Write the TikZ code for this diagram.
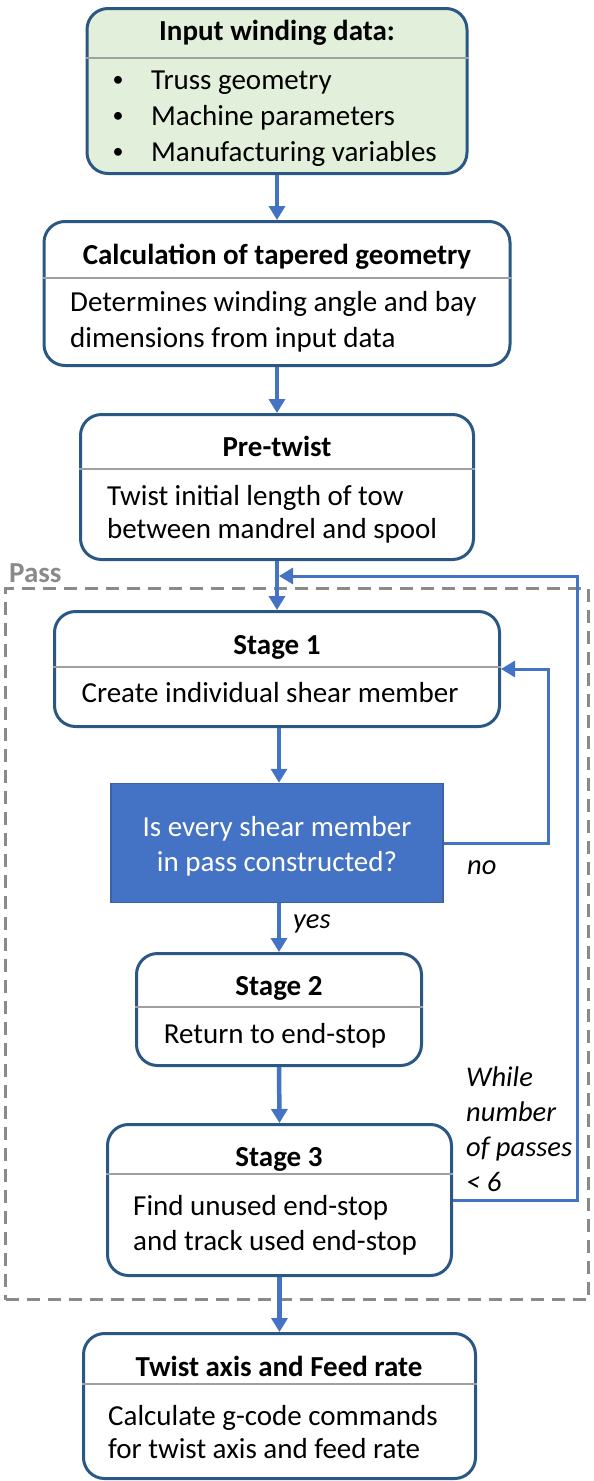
\documentclass[tikz,border=0pt]{standalone}
\usepackage{fontspec}
\setmainfont{Carlito}
\usetikzlibrary{arrows.meta}
\definecolor{bdr}{HTML}{2A5783}
\definecolor{grn}{HTML}{E2EFDA}
\definecolor{arrc}{HTML}{4472C4}
\definecolor{decb}{HTML}{3A62A8}
\definecolor{sepc}{HTML}{A0A0A0}
\definecolor{passg}{HTML}{8A8A8A}
\begin{document}
\begin{tikzpicture}[x=1pt,y=-1pt,
  box/.style={draw=bdr,line width=3pt,rounded corners=21pt,fill=white,inner sep=0pt},
  sep/.style={draw=sepc,line width=1.4pt},
  ttl/.style={font=\fontsize{29}{34}\selectfont\bfseries,anchor=mid,inner sep=0pt,yshift=-6pt},
  txt/.style={font=\fontsize{29}{34}\selectfont,anchor=mid west,inner sep=0pt,yshift=-6pt},
  ctxt/.style={font=\fontsize{29}{34}\selectfont,anchor=mid,inner sep=0pt,yshift=-6pt},
  bul/.style={font=\fontsize{22}{34}\selectfont,anchor=center,inner sep=0pt},
  lbl/.style={font=\fontsize{28.5}{34}\selectfont\itshape,anchor=mid west,inner sep=0pt,yshift=-6pt},
  arr/.style={draw=arrc,line width=4.5pt,-{Triangle[width=16pt,length=14pt]}},
  loop/.style={draw=arrc,line width=3pt,-{Triangle[width=16pt,length=14pt]}}]
\useasboundingbox (0,0) rectangle (594,1481);

% Pass frame
\node[draw=passg,line width=3pt,dash pattern=on 13pt off 8pt,minimum width=583pt,minimum height=711pt,inner sep=0pt] (pass) at (297,944) {};
\node[font=\fontsize{29}{34}\selectfont\bfseries,text=passg,anchor=mid west,inner sep=0pt,yshift=-6pt] (passL) at (9,574) {Pass};

% Input box
\node[box,fill=grn,minimum width=380pt,minimum height=165pt] (inp) at (277,91) {};
\coordinate (inpS) at (0,58);
\draw[sep] (inp.west |- inpS) -- (inp.east |- inpS);
\node[ttl] (inpT) at (277,32) {Input winding data:};
\node[bul] (inpB1) at (118,81) {•};
\node[bul] (inpB2) at (118,117) {•};
\node[bul] (inpB3) at (118,153) {•};
\node[txt] (inpL1) at (151,81) {Truss geometry};
\node[txt] (inpL2) at (151,117) {Machine parameters};
\node[txt] (inpL3) at (151,153) {Manufacturing variables};

% Calculation box
\node[box,minimum width=466pt,minimum height=144pt] (calc) at (277,293.5) {};
\coordinate (calcS) at (0,278);
\draw[sep] (calc.west |- calcS) -- (calc.east |- calcS);
\node[ttl] (calcT) at (277,256) {Calculation of tapered geometry};
\node[txt] (calcL1) at (70,303) {Determines winding angle and bay};
\node[txt] (calcL2) at (70,339) {dimensions from input data};

% Pre-twist box
\node[box,minimum width=393pt,minimum height=145pt] (pre) at (277,487) {};
\coordinate (preS) at (0,469);
\draw[sep] (pre.west |- preS) -- (pre.east |- preS);
\node[ttl] (preT) at (277,448) {Pre-twist};
\node[txt] (preL1) at (107,497) {Twist initial length of tow};
\node[txt] (preL2) at (107,530) {between mandrel and spool};

% Stage 1
\node[box,minimum width=445pt,minimum height=115pt] (s1) at (277,669) {};
\coordinate (s1S) at (0,667);
\draw[sep] (s1.west |- s1S) -- (s1.east |- s1S);
\node[ttl] (s1T) at (277,646) {Stage 1};
\node[ctxt] (s1L1) at (270,694) {Create individual shear member};

% Decision
\node[draw=decb,line width=1.5pt,fill=arrc,minimum width=332pt,minimum height=119pt,inner sep=0pt] (dec) at (277,843) {};
\node[ctxt,text=white] (decL1) at (277,828) {Is every shear member};
\node[ctxt,text=white] (decL2) at (277,863) {in pass constructed?};

% Stage 2
\node[box,minimum width=285pt,minimum height=112pt] (s2) at (279,1009.5) {};
\coordinate (s2S) at (0,1007);
\draw[sep] (s2.west |- s2S) -- (s2.east |- s2S);
\node[ttl] (s2T) at (279,987) {Stage 2};
\node[ctxt] (s2L1) at (275,1035) {Return to end-stop};

% Stage 3
\node[box,minimum width=344pt,minimum height=151pt] (s3) at (279.5,1200) {};
\coordinate (s3S) at (0,1174);
\draw[sep] (s3.west |- s3S) -- (s3.east |- s3S);
\node[ttl] (s3T) at (279,1158) {Stage 3};
\node[txt] (s3L1) at (133,1207) {Find unused end-stop};
\node[txt] (s3L2) at (133,1242) {and track used end-stop};

% Final box
\node[box,minimum width=392pt,minimum height=145pt] (fin) at (279.5,1406) {};
\coordinate (finS) at (0,1384);
\draw[sep] (fin.west |- finS) -- (fin.east |- finS);
\node[ttl] (finT) at (279,1368) {Twist axis and Feed rate};
\node[txt] (finL1) at (108,1417) {Calculate g-code commands};
\node[txt] (finL2) at (108,1450) {for twist axis and feed rate};

% Main arrows
\draw[arr] (inp.south) -- (calc.north);
\draw[arr] (calc.south) -- (pre.north);
\draw[arr] (pre.south) -- (s1.north);
\draw[arr] (s1.south -| 279,0) -- (dec.north -| 279,0);
\draw[arr] (dec.south -| s2.north) -- (s2.north);
\draw[arr] (s2.south) -- (s3.north);
\draw[arr] (s3.south) -- (fin.north);

% Inner loop (no)
\coordinate (nx) at (548,0);
\draw[loop] (dec.east) -- (dec.east -| nx) -- (s1.east -| nx) -- (s1.east);
\node[lbl] (noL) at (467,866) {no};
\node[lbl] (yesL) at (293,920) {yes};

% Outer loop
\coordinate (ox) at (577,0);
\coordinate (ret) at (279,576);
\draw[loop] (s3.east) -- (s3.east -| ox) -- (ret -| ox) -- (ret);
\node[lbl] (w1) at (466,1078) {While};
\node[lbl] (w2) at (466,1113) {number};
\node[lbl] (w3) at (466,1148) {of passes};
\node[lbl] (w4) at (466,1183) {< 6};
\end{tikzpicture}
\end{document}
